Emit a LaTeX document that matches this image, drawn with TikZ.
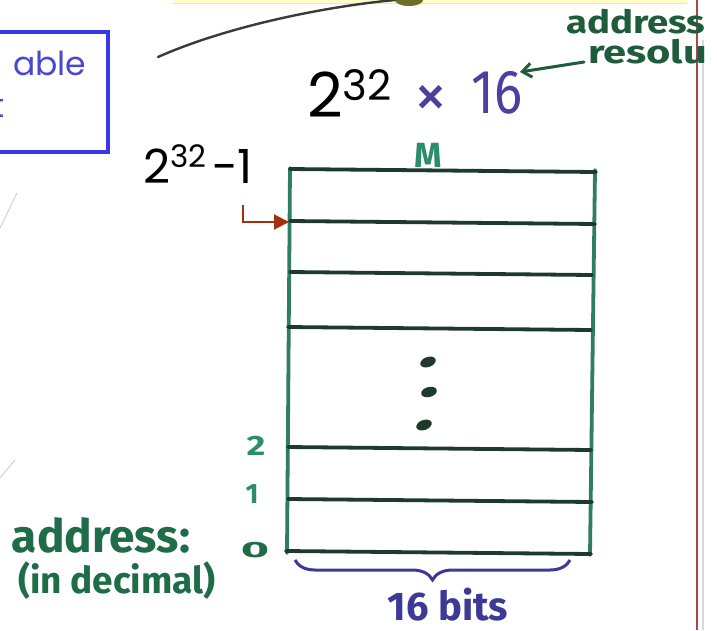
\documentclass[tikz,border=0pt]{standalone}
\usepackage{fontspec}
\newfontfamily\geo{Poppins}
\newfontfamily\hand{Fira Sans}
\usetikzlibrary{decorations.pathreplacing,arrows.meta,shapes.geometric}
\definecolor{bandyellow}{HTML}{FFFFC8}
\definecolor{bandedge}{HTML}{EDEDA0}
\definecolor{blobolive}{HTML}{6E6E28}
\definecolor{curvegray}{HTML}{3A3A3A}
\definecolor{boxblue}{HTML}{3838E6}
\definecolor{textblue}{HTML}{4848D0}
\definecolor{penpurple}{HTML}{4A40A0}
\definecolor{bracepurple}{HTML}{3C3A96}
\definecolor{greendark}{HTML}{1F5C3C}
\definecolor{greentext}{HTML}{1F6C48}
\definecolor{greenteal}{HTML}{2C8C6C}
\definecolor{tabgreen}{HTML}{2F7F5F}
\definecolor{tabdark}{HTML}{1E3A2C}
\definecolor{arrowred}{HTML}{A2300F}
\definecolor{redline}{HTML}{A84848}
\tikzset{
  hlinestyle/.style={tabdark, line width=3.8, line cap=round},
  vlinestyle/.style={tabgreen, line width=3.8, line cap=round},
  dotstyle/.style={tabdark},
  handgreen/.style={text=greentext, font=\hand\bfseries},
  geotext/.style={text=black, font=\geo},
}
\begin{document}
\begin{tikzpicture}[x=1pt,y=-1pt, every node/.style={inner sep=0pt, outer sep=0pt}]
\useasboundingbox (0,0) rectangle (717,630);
\clip (0,0) rectangle (717,630);
\fill[white] (0,0) rectangle (717,630);

% top band and curve
\fill[bandyellow] (173,-5) rectangle (687,3);
\draw[bandedge, line width=1] (173,3) -- (687,3);
\node[fill=blobolive, ellipse, minimum width=28, minimum height=12] (blob) at (409,0) {};
\coordinate (cstart) at (158,57);
\draw[curvegray, line width=2.4, line cap=round] (cstart) .. controls (230,25) and (330,6) .. (blob.west);

% blue box
\draw[boxblue, line width=4] (-10,32) rectangle (108,152);
\node[anchor=base west, text=textblue, font=\geo\fontsize{33}{36}\selectfont] (able) at (13,75) {able};
\node[anchor=base west, text=textblue, font=\geo\fontsize{33}{36}\selectfont] (tfrag) at (-8,117) {t};

% faint marks
\draw[gray!35, line width=1] (0,228) -- (17,193);
\draw[gray!35, line width=1] (0,478) -- (15,460);

% right margin lines
\draw[gray!30, line width=1.5] (703,40) -- (703,630);
\draw[redline, line width=1.2] (697,0) -- (697,630);

% size text
\node[anchor=base west, geotext] (size) at (307,117)
  {\fontsize{62}{70}\selectfont 2\raisebox{17pt}{\fontsize{42}{48}\selectfont 32}};
\node[text=penpurple, font=\hand\fontsize{66}{70}\selectfont] (times) at (431,101) {×};
\node[text=penpurple, font=\hand\fontsize{62}{66}\selectfont] (sixteen) at (497,93) {\scalebox{0.85}[1]{16}};

\node[anchor=base west, text=greendark, font=\hand\bfseries\fontsize{32}{36}\selectfont] (addr) at (566,33) {\scalebox{1.2}[1]{address}};
\node[anchor=base west, text=greendark, font=\hand\bfseries\fontsize{32}{36}\selectfont] (resol) at (588,63) {\scalebox{1.3}[1]{resolu}};
\coordinate (atail) at (584,62);
\coordinate (ahead) at (520,72);
\draw[greendark, line width=3, line cap=round, -{Straight Barb[length=9,width=14]}] (atail) -- (ahead);

% top address label
\node[anchor=base west, geotext] (top) at (143,183)
  {\fontsize{47}{52}\selectfont 2\raisebox{16pt}{\fontsize{31}{36}\selectfont 32}};
\node[anchor=base west, geotext, font=\geo\fontsize{47}{52}\selectfont] (minusone) at (212,183) {-1};

% memory table
\node[text=greenteal, font=\hand\bfseries\fontsize{35}{40}\selectfont] (M) at (428,155) {M};
\draw[vlinestyle] (290,168) -- (287,553);
\draw[vlinestyle] (595,170) -- (590,555);
\draw[hlinestyle] (290,169) -- (596,172);
\draw[hlinestyle] (290,221) -- (595,224);
\draw[hlinestyle] (290,272) -- (592,275);
\draw[hlinestyle] (288,327) -- (591,330);
\draw[hlinestyle] (288,447) -- (591,450);
\draw[hlinestyle] (288,499) -- (592,502);
\draw[hlinestyle] (286,551) -- (591,554);
\fill[dotstyle, rotate around={20:(428,362)}] (428,362) ellipse (8 and 5);
\fill[dotstyle, rotate around={15:(429,392)}] (429,392) ellipse (8 and 5);
\fill[dotstyle, rotate around={20:(424,425)}] (424,425) ellipse (8 and 5);

% red arrow
\coordinate (rstart) at (243,205);
\coordinate (rend) at (289,222);
\draw[arrowred, line width=2, -{Triangle[length=15,width=15]}] (rstart) |- (rend);

% left labels
\node[text=greenteal, font=\hand\bfseries\fontsize{28}{30}\selectfont] (two) at (256,446) {\scalebox{1.3}[1]{2}};
\node[text=greenteal, font=\hand\bfseries\fontsize{28}{30}\selectfont] (one) at (252,494) {1};
\node[text=greentext, font=\hand\bfseries\fontsize{22}{24}\selectfont] (zero) at (255,550) {\scalebox{2.2}[1]{0}};
\node[anchor=base west, handgreen, font=\hand\bfseries\fontsize{46}{50}\selectfont] (address) at (12,552) {address:};
\node[anchor=base west, handgreen, font=\hand\bfseries\fontsize{37}{42}\selectfont] (decimal) at (18,593) {(in decimal)};

% brace
\draw[bracepurple, line width=3, decorate, decoration={brace, amplitude=20, mirror}] (295,560) -- (570,560);
\node[anchor=base, text=bracepurple, font=\hand\bfseries\fontsize{40}{44}\selectfont] (bits) at (448,620) {16 bits};
\end{tikzpicture}
\end{document}
